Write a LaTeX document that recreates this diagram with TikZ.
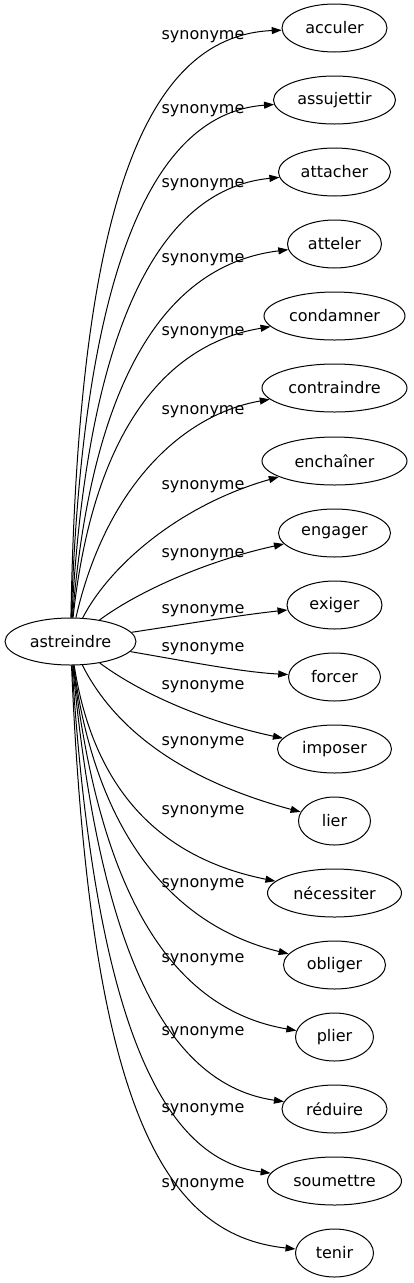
\documentclass[tikz,border=0pt]{standalone}
\usepackage{fontspec}
\setmainfont{DejaVu Sans}
\usetikzlibrary{shapes.geometric,arrows.meta}
\begin{document}
\begin{tikzpicture}[x=1pt,y=-1pt,
  every node/.style={font=\fontsize{16}{19}\selectfont},
  word/.style={draw, ellipse, line width=1pt, inner sep=0pt, minimum height=48pt},
  lbl/.style={inner sep=0pt},
  syn/.style={line width=1pt, -{Triangle[length=10pt,width=7pt]}}]
\useasboundingbox (0,0) rectangle (413,1283);
\node[word, minimum width=131pt, minimum height=47pt] (h) at (70.5,641.5) {astreindre};
\node[word, minimum width=105pt] (t1) at (334.5,28) {acculer};
\node[word, minimum width=122pt] (t2) at (334.5,100) {assujettir};
\node[word, minimum width=112pt] (t3) at (334.5,172) {attacher};
\node[word, minimum width=94pt] (t4) at (334.5,244) {atteler};
\node[word, minimum width=141pt] (t5) at (334.5,316) {condamner};
\node[word, minimum width=145pt] (t6) at (334.5,388) {contraindre};
\node[word, minimum width=145pt] (t7) at (334.5,461) {enchaîner};
\node[word, minimum width=112pt] (t8) at (334.5,533) {engager};
\node[word, minimum width=95pt] (t9) at (334.5,605) {exiger};
\node[word, minimum width=92pt] (t10) at (334.5,677) {forcer};
\node[word, minimum width=114pt] (t11) at (334.5,749) {imposer};
\node[word, minimum width=72pt] (t12) at (334.5,821) {lier};
\node[word, minimum width=134pt] (t13) at (334.5,893) {nécessiter};
\node[word, minimum width=102pt] (t14) at (334.5,965) {obliger};
\node[word, minimum width=78pt] (t15) at (334.5,1037) {plier};
\node[word, minimum width=105pt] (t16) at (334.5,1109) {réduire};
\node[word, minimum width=134pt] (t17) at (334.5,1181) {soumettre};
\node[word, minimum width=78pt] (t18) at (334.5,1253) {tenir};
\draw[syn] (h) .. controls (78,220) and (140,36) .. (t1);
\draw[syn] (h) .. controls (82,290) and (145,114) .. (t2);
\draw[syn] (h) .. controls (86,350) and (150,190) .. (t3);
\draw[syn] (h) .. controls (90,400) and (155,266) .. (t4);
\draw[syn] (h) .. controls (92,440) and (160,345) .. (t5);
\draw[syn] (h) .. controls (105,490) and (180,415) .. (t6);
\draw[syn] (h) .. controls (110,565) and (180,505) .. (t7);
\draw[syn] (h) .. controls (140,590) and (210,560) .. (t8);
\draw[syn] (h) .. controls (180,625) and (240,615) .. (t9);
\draw[syn] (h) .. controls (180,660) and (240,672) .. (t10);
\draw[syn] (h) .. controls (150,700) and (220,725) .. (t11);
\draw[syn] (h) .. controls (120,740) and (200,785) .. (t12);
\draw[syn] (h) .. controls (95,800) and (170,860) .. (t13);
\draw[syn] (h) .. controls (95,830) and (170,925) .. (t14);
\draw[syn] (h) .. controls (100,900) and (175,1010) .. (t15);
\draw[syn] (h) .. controls (100,960) and (170,1085) .. (t16);
\draw[syn] (h) .. controls (95,1030) and (165,1160) .. (t17);
\draw[syn] (h) .. controls (90,1100) and (160,1235) .. (t18);
\node[lbl] (l1) at (203,37) {synonyme};
\node[lbl] (l2) at (203,111) {synonyme};
\node[lbl] (l3) at (203,185) {synonyme};
\node[lbl] (l4) at (203,260) {synonyme};
\node[lbl] (l5) at (203,333) {synonyme};
\node[lbl] (l6) at (203,412) {synonyme};
\node[lbl] (l7) at (203,487) {synonyme};
\node[lbl] (l8) at (203,555) {synonyme};
\node[lbl] (l9) at (203,611) {synonyme};
\node[lbl] (l10) at (203,649) {synonyme};
\node[lbl] (l11) at (203,687) {synonyme};
\node[lbl] (l12) at (203,743) {synonyme};
\node[lbl] (l13) at (203,812) {synonyme};
\node[lbl] (l14) at (203,885) {synonyme};
\node[lbl] (l15) at (203,960) {synonyme};
\node[lbl] (l16) at (203,1033) {synonyme};
\node[lbl] (l17) at (203,1110) {synonyme};
\node[lbl] (l18) at (203,1185) {synonyme};
\end{tikzpicture}
\end{document}
